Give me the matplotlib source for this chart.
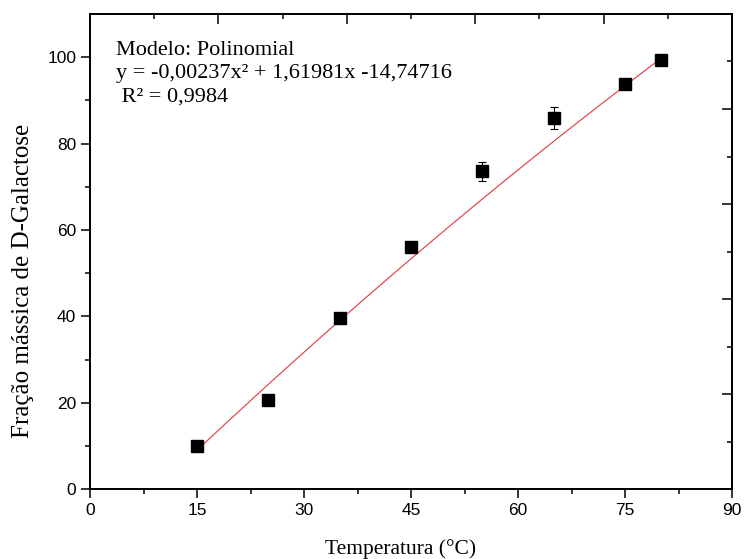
import numpy as np
import matplotlib
matplotlib.use("Agg")
import matplotlib.pyplot as plt

# dados
temperatura = [15, 25, 35, 45, 55, 65, 75, 80]
fracao = [10.0, 20.6, 39.6, 56.0, 73.6, 85.9, 93.7, 99.3]
erro = [0.5, 0.5, 0.8, 0.6, 2.2, 2.5, 0.5, 0.4]

# coeficientes do modelo polinomial (a x^2 + b x + c)
coef = [-0.00237, 1.61981, -14.74716]
x_fit_range = [15, 80]

fig = plt.figure(figsize=(7.44, 5.59), dpi=100)
ax = fig.add_axes([0.121, 0.125, 0.863, 0.850])

# curva do ajuste
xf = np.linspace(x_fit_range[0], x_fit_range[1], 200)
ax.plot(xf, np.polyval(coef, xf), color="#e0393e", linewidth=0.8, zorder=2)

# pontos com barra de erro
ax.errorbar(temperatura, fracao, yerr=erro, fmt="s", color="black",
            markersize=8.5, ecolor="black", elinewidth=0.8, capsize=3.2,
            capthick=0.8, zorder=3)

ax.set_xlim(0, 90)
ax.set_ylim(0, 110)
ax.set_xticks(np.arange(0, 91, 15))
ax.set_xticks(np.arange(7.5, 90, 15), minor=True)
ax.set_yticks(np.arange(0, 101, 20))
ax.set_yticks(np.arange(10, 110, 20), minor=True)

for lab in ax.get_xticklabels() + ax.get_yticklabels():
    lab.set_family("Liberation Sans")
ax.tick_params(which="major", direction="out", length=6.5, width=1.1, labelsize=12.5)
ax.tick_params(which="minor", direction="out", length=3.6, width=1.1)
for s in ax.spines.values():
    s.set_linewidth(1.1)

# eixos de cima e da direita (so ticks, para dentro)
top = ax.twiny()
top.set_xlim(0, 90)
top.set_xticks(np.arange(18, 91, 18))
top.set_xticks(np.arange(9, 90, 18), minor=True)
top.tick_params(which="major", direction="in", length=7, width=1.1, labeltop=False)
top.tick_params(which="minor", direction="in", length=3.6, width=1.1)

right = ax.twinx()
right.set_ylim(0, 110)
right.set_yticks(np.arange(22, 111, 22))
right.set_yticks(np.arange(11, 110, 22), minor=True)
right.tick_params(which="major", direction="in", length=7, width=1.1, labelright=False)
right.tick_params(which="minor", direction="in", length=3.6, width=1.1)
for a in (top, right):
    for s in a.spines.values():
        s.set_linewidth(1.1)

ax.set_xlabel("Temperatura (°C)", family="Liberation Serif", fontsize=15.5)
ax.xaxis.set_label_coords(0.483, -0.105)
ax.set_ylabel("Fração mássica de D-Galactose", family="Liberation Serif", fontsize=18)
ax.yaxis.set_label_coords(-0.088, 0.438)

txt = "Modelo: Polinomial\ny = -0,00237x² + 1,61981x -14,74716\n R² = 0,9984"
ax.text(0.04, 0.943, txt, transform=ax.transAxes, va="top", ha="left",
        family="Liberation Serif", fontsize=16, linespacing=1.3)

fig.savefig("out.png", dpi=100)
